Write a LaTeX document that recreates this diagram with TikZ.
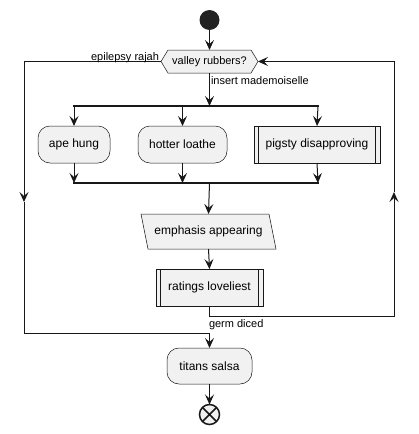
\documentclass[tikz,border=0pt]{standalone}
\usepackage{fontspec}
\setmainfont{Liberation Sans}
\usetikzlibrary{arrows.meta,calc}
\definecolor{boxfill}{HTML}{F1F1F1}
\definecolor{ink}{HTML}{181818}
\definecolor{startfill}{HTML}{222222}
\begin{document}
\begin{tikzpicture}[x=1pt,y=-1pt,
  every node/.style={inner sep=0pt,outer sep=0pt},
  boxtxt/.style={font=\fontsize{12}{14}\selectfont},
  act/.style={boxtxt,draw=ink,line width=0.5pt,fill=boxfill,rounded corners=12pt,minimum height=37pt},
  subproc/.style={boxtxt,draw=ink,line width=0.5pt,fill=boxfill,minimum height=37pt,
    path picture={\draw[ink,line width=0.5pt]
      ([xshift=4.5pt]path picture bounding box.north west) -- ([xshift=4.5pt]path picture bounding box.south west)
      ([xshift=-4.5pt]path picture bounding box.north east) -- ([xshift=-4.5pt]path picture bounding box.south east);}},
  shapeline/.style={draw=ink,line width=0.5pt,fill=boxfill},
  conn/.style={draw=ink,line width=1pt},
  flow/.style={conn,-{Stealth[length=10pt,width=9pt,inset=4pt]}},
  bar/.style={draw=ink,line width=2pt},
  lbl/.style={font=\fontsize{11}{13}\selectfont}
]
\useasboundingbox (0,0) rectangle (419,434);

% start
\node[circle,fill=startfill,minimum size=20pt] (start) at (209.5,20) {};

% decision hexagon
\path[shapeline] (161,61.5) -- (168,50) -- (251,50) -- (258,61.5) -- (251,73) -- (168,73) -- cycle;
\node[font=\fontsize{11}{13}\selectfont,minimum width=97pt,minimum height=23pt] (dec) at (209.5,61.5) {valley rubbers?};

% fork / join coordinates
\coordinate (fL) at (74,106);
\coordinate (fM) at (209.5,106);
\coordinate (fR) at (318,106);
\coordinate (jL) at (74,183);
\coordinate (jM) at (209.5,183);
\coordinate (jR) at (318,183);

% parallel activities
\node[act,minimum width=72pt] (ape) at (74,144.5) {ape hung};
\node[act,minimum width=89pt] (hot) at (182.5,144.5) {hotter loathe};
\node[subproc,minimum width=126pt] (pig) at (317,144.5) {pigsty disapproving};

% emphasis parallelogram
\path[shapeline] (141,214) -- (269,214) -- (276,249) -- (148,249) -- cycle;
\node[boxtxt,minimum width=128pt,minimum height=35pt] (emph) at (208.5,231.5) {emphasis appearing};

% ratings
\node[subproc,minimum width=107pt] (rat) at (209.5,287.5) {ratings loveliest};

% titans
\node[act,minimum width=85pt,minimum height=36pt] (tit) at (209.5,366) {titans salsa};

% end
\node[circle,draw=ink,line width=1.5pt,fill=boxfill,minimum size=20pt] (stop) at (209.5,414.5) {};
\draw[ink,line width=1.5pt] (stop.north west) -- (stop.south east) (stop.north east) -- (stop.south west);

% connectors
\draw[flow] (start) -- (dec.north);
\draw[flow] (dec.south) -- (fM);
\draw[bar] ($(fL)+(-1,0)$) -- ($(fR)+(1,0)$);
\draw[flow] (fL) -- (ape.north);
\draw[flow] (hot.north |- fL) -- (hot.north);
\draw[flow] (fR) -- (pig.north);
\draw[flow] (ape.south) -- (jL);
\draw[flow] (hot.south) -- (hot.south |- jL);
\draw[flow] (pig.south) -- (jR);
\draw[bar] ($(jL)+(-1,0)$) -- ($(jR)+(1,0)$);
\draw[flow] (jM) -- (emph.north);
\draw[flow] (emph.south) -- (rat.north);

% loop back (right)
\coordinate (r1) at (209.5,316);
\coordinate (r2) at (394,316);
\coordinate (rA) at (394,192);
\coordinate (r3) at (394,61.5);
\draw[flow] (rat.south) -- (r1) -- (r2) -- (rA);
\draw[flow] (rA) -- (r3) -- (dec.east);

% exit (left)
\coordinate (l1) at (24,61.5);
\coordinate (lA) at (24,202);
\coordinate (l2) at (24,333);
\coordinate (l3) at (209.5,333);
\draw[flow] (dec.west) -- (l1) -- (lA);
\draw[flow] (lA) -- (l2) -- (l3) -- (tit.north);
\draw[flow] (tit.south) -- (stop.north);

% labels
\node[lbl,anchor=base east] (la) at (159,60) {epilepsy rajah};
\node[lbl,anchor=base west] (lb) at (211,84) {insert mademoiselle};
\node[lbl,anchor=base west] (lc) at (209,327) {germ diced};
\end{tikzpicture}
\end{document}
